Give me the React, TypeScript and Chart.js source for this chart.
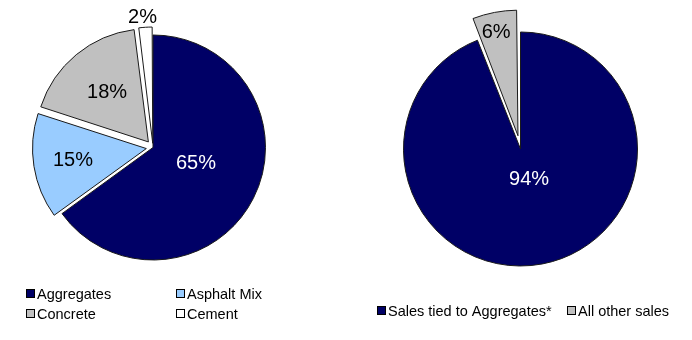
import React, { useEffect, useRef } from "react";
import { Chart, registerables } from "chart.js";

Chart.register(...registerables);

// ---- data ----
const leftLabels = ["Aggregates", "Asphalt Mix", "Concrete", "Cement"];
const leftValues = [65, 15, 18, 2];
const rightLabels = ["Sales tied to Aggregates*", "All other sales"];
const rightValues = [94, 6];

// ---- styles ----
const leftColors = ["#000066", "#99CCFF", "#C0C0C0", "#FFFFFF"];
const rightColors = ["#000066", "#C0C0C0"];
// Chart.js arc offset is scaled internally (offset/4 * (1 + fix)), so these
// raw values give roughly 8px / 22px explosions.
const leftOffsets = [0, 27, 29, 17];
const rightOffsets = [0, 54];
const leftLabelRadius = [0.406, 0.72, 0.64, 1.16];
const leftLabelAngleShift = [-7, 0, 0, -1];
const rightLabelRadius = [0.27, 1.02];
const rightLabelAngleShift = [-5, -1];
const leftLabelColors = ["#FFFFFF", "#000000", "#000000", "#000000"];
const rightLabelColors = ["#FFFFFF", "#000000"];
const leftLegendPos = [
  [26, 294],
  [176, 294],
  [26, 314],
  [176, 314],
];
const rightLegendPos = [
  [31, 311],
  [221, 311],
];

const FONT = "'Liberation Sans', Arial, sans-serif";

const pctLabelPlugin = {
  id: "pctLabels",
  afterDatasetsDraw(chart: any, _args: any, opts: any) {
    const ctx = chart.ctx;
    const meta = chart.getDatasetMeta(0);
    const values = chart.data.datasets[0].data;
    ctx.save();
    ctx.font = `20px ${FONT}`;
    ctx.textAlign = "center";
    ctx.textBaseline = "middle";
    meta.data.forEach((arc: any, i: number) => {
      const p = arc.getProps(["x", "y", "startAngle", "endAngle", "outerRadius"], true);
      const mid = (p.startAngle + p.endAngle) / 2 + (opts.shift[i] * Math.PI) / 180;
      const r = p.outerRadius * opts.radius[i];
      ctx.fillStyle = opts.colors[i];
      ctx.fillText(`${values[i]}%`, p.x + Math.cos(mid) * r, p.y + Math.sin(mid) * r);
    });
    ctx.restore();
  },
};

const legendPlugin = {
  id: "customLegend",
  afterDraw(chart: any, _args: any, opts: any) {
    const ctx = chart.ctx;
    const labels = chart.data.labels;
    const colors = chart.data.datasets[0].backgroundColor;
    ctx.save();
    ctx.font = `14.5px ${FONT}`;
    ctx.textAlign = "left";
    ctx.textBaseline = "middle";
    labels.forEach((lab: string, i: number) => {
      const [x, y] = opts.pos[i];
      ctx.fillStyle = colors[i];
      ctx.fillRect(x + 0.5, y - 4.5, 8, 8);
      ctx.strokeStyle = "#000000";
      ctx.lineWidth = 1;
      ctx.strokeRect(x + 0.5, y - 4.5, 8, 8);
      ctx.fillStyle = "#000000";
      ctx.fillText(lab, x + 11, y + 0.5);
    });
    ctx.restore();
  },
};

function PieCanvas(props: {
  labels: string[];
  values: number[];
  colors: string[];
  offsets: number[];
  labelRadius: number[];
  labelShift: number[];
  labelColors: string[];
  legendPos: number[][];
  padding: { left: number; right: number; top: number; bottom: number };
  left: number;
}) {
  const ref = useRef<HTMLCanvasElement>(null);
  useEffect(() => {
    if (!ref.current) return;
    const chart = new Chart(ref.current, {
      type: "pie",
      data: {
        labels: props.labels,
        datasets: [
          {
            data: props.values,
            backgroundColor: props.colors,
            borderColor: "#1a1a1a",
            borderWidth: 1,
            hoverBorderWidth: 1,
            offset: props.offsets,
            hoverOffset: 0,
          } as any,
        ],
      },
      options: {
        responsive: false,
        animation: false,
        events: [],
        layout: { padding: props.padding },
        plugins: {
          legend: { display: false },
          tooltip: { enabled: false },
          pctLabels: { radius: props.labelRadius, shift: props.labelShift, colors: props.labelColors },
          customLegend: { pos: props.legendPos },
        } as any,
      },
      plugins: [pctLabelPlugin, legendPlugin],
    });
    return () => chart.destroy();
  }, []);
  return (
    <canvas
      ref={ref}
      width={346}
      height={340}
      style={{ position: "absolute", left: props.left, top: 0, width: 346, height: 340 }}
    />
  );
}

export default function App() {
  return (
    <div
      style={{
        position: "absolute",
        left: 0,
        top: 0,
        width: 692,
        height: 340,
        background: "#ffffff",
        overflow: "hidden",
      }}
    >
      <PieCanvas
        labels={leftLabels}
        values={leftValues}
        colors={leftColors}
        offsets={leftOffsets}
        labelRadius={leftLabelRadius}
        labelShift={leftLabelAngleShift}
        labelColors={leftLabelColors}
        legendPos={leftLegendPos}
        padding={{ left: 25.5, right: 65.5, top: 20, bottom: 65 }}
        left={0}
      />
      <PieCanvas
        labels={rightLabels}
        values={rightValues}
        colors={rightColors}
        offsets={rightOffsets}
        labelRadius={rightLabelRadius}
        labelShift={rightLabelAngleShift}
        labelColors={rightLabelColors}
        legendPos={rightLegendPos}
        padding={{ left: 30, right: 27, top: 4.5, bottom: 46.5 }}
        left={346}
      />
    </div>
  );
}
